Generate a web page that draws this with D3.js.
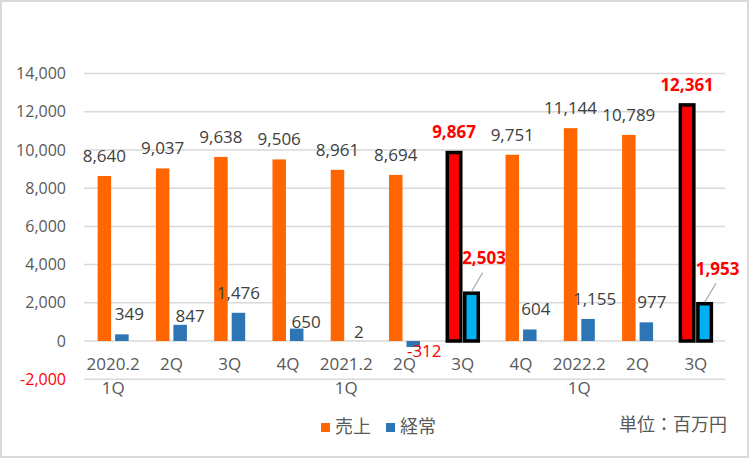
<!DOCTYPE html>
<html><head><meta charset="utf-8">
<script src="https://cdn.jsdelivr.net/npm/d3@7"></script>
<style>body{margin:0;background:#fff} svg{display:block}</style>
</head><body><svg id="c" width="750" height="459"></svg>
<script>
// ---- data ----
const categories = ["2020.2","2Q","3Q","4Q","2021.2","2Q","3Q","4Q","2022.2","2Q","3Q"];
const subCategories = ["1Q","","","","1Q","","","","1Q","",""];
const sales = [8640,9037,9638,9506,8961,8694,9867,9751,11144,10789,12361];
const ordinary = [349,847,1476,650,2,-312,2503,604,1155,977,1953];
const yTicks = [-2000,0,2000,4000,6000,8000,10000,12000,14000];
const highlighted = [6,10];
const seriesNames = ["売上","経常"];
const unitLabel = "単位：百万円";

// ---- layout (label nudges for ordinary-profit labels, px) ----
const ordLabelNudge = [[7.5,0],[10,11],[0,0],[9.5,13],[4,11],[11,30],[12.5,-15],[6,0],[6.5,0],[5.5,0],[13,-15]];

const svg = d3.select("#c");
const NUM = "'Open Sans', 'Noto Sans', sans-serif";
const JP = "'Noto Sans CJK JP', sans-serif";
const C_SALES = "#ff6600", C_ORD = "#2e75b6", C_HS = "#ff0000", C_HO = "#00b0f0";
const fmt = d3.formatLocale({decimal:".",thousands:",",grouping:[3],currency:["",""],minus:"-"}).format(",");

svg.append("rect").attr("x",1).attr("y",1).attr("width",747).attr("height",456)
  .attr("fill","#fff").attr("stroke","#d9d9d9").attr("stroke-width",2);

const x = d3.scaleBand().domain(d3.range(categories.length)).range([84,725]);
const groupW = 31;
const xSub = d3.scaleBand().domain([0,1]).range([0,groupW]).paddingInner(0.2286);
const gx = i => x(i) + (x.bandwidth()-groupW)/2;
const y = d3.scaleLinear().domain([-2000,14000]).range([379.2,73.6]);

// gridlines
svg.append("g").selectAll("line").data(yTicks).join("line")
  .attr("x1",84).attr("x2",725).attr("y1",d=>y(d)).attr("y2",d=>y(d))
  .attr("stroke","#d9d9d9").attr("stroke-width",1.5);

// y tick labels
svg.append("g").selectAll("text").data(yTicks).join("text")
  .attr("x",66).attr("y",d=>y(d)).attr("dy","0.35em").attr("text-anchor","end")
  .attr("font-family",NUM).attr("font-size",16)
  .attr("fill",d=>d<0?"#ff0000":"#595959").text(d=>fmt(d));

const isH = i => highlighted.includes(i);

// bars
const bars = svg.append("g");
bars.selectAll("rect.s").data(sales).join("rect").attr("class","s")
  .attr("x",(d,i)=>gx(i)+xSub(0)).attr("width",xSub.bandwidth())
  .attr("y",d=>y(Math.max(d,0))).attr("height",d=>Math.abs(y(d)-y(0)))
  .attr("fill",(d,i)=>isH(i)?C_HS:C_SALES)
  .attr("stroke",(d,i)=>isH(i)?"#000":"none").attr("stroke-width",3.5);
bars.selectAll("rect.o").data(ordinary).join("rect").attr("class","o")
  .attr("x",(d,i)=>gx(i)+xSub(1)).attr("width",xSub.bandwidth())
  .attr("y",d=>y(Math.max(d,0))).attr("height",d=>Math.abs(y(d)-y(0)))
  .attr("fill",(d,i)=>isH(i)?C_HO:C_ORD)
  .attr("stroke",(d,i)=>isH(i)?"#000":"none").attr("stroke-width",3.5);

// sales labels
svg.append("g").selectAll("text").data(sales).join("text")
  .attr("x",(d,i)=>gx(i)+xSub(0)+xSub.bandwidth()/2)
  .attr("y",d=>y(d)-20).attr("dy","0.35em").attr("text-anchor","middle")
  .attr("font-family",NUM).attr("font-size",17)
  .attr("font-weight",(d,i)=>isH(i)?"bold":"normal")
  .attr("fill",(d,i)=>isH(i)?"#ff0000":"#404040").text(d=>fmt(d));

// ordinary labels
const ordPos = ordinary.map((d,i)=>{
  const cx = gx(i)+xSub(1)+xSub.bandwidth()/2;
  return {cx, top:y(Math.max(d,0)), lx:cx+ordLabelNudge[i][0], ly:y(Math.max(d,0))-20+ordLabelNudge[i][1]};
});
// leader lines for highlighted
svg.append("g").selectAll("line").data(highlighted).join("line")
  .attr("x1",i=>ordPos[i].lx-1.5).attr("y1",i=>ordPos[i].ly+14.5)
  .attr("x2",i=>ordPos[i].cx).attr("y2",i=>ordPos[i].top-1.5)
  .attr("stroke","#a6a6a6").attr("stroke-width",1.2);
svg.append("g").selectAll("text").data(ordinary).join("text")
  .attr("x",(d,i)=>ordPos[i].lx).attr("y",(d,i)=>ordPos[i].ly)
  .attr("dy","0.35em").attr("text-anchor","middle")
  .attr("font-family",NUM).attr("font-size",17)
  .attr("font-weight",(d,i)=>isH(i)?"bold":"normal")
  .attr("fill",(d,i)=>(isH(i)||d<0)?"#ff0000":"#404040").text(d=>fmt(d));

// x labels
svg.append("g").selectAll("text").data(categories).join("text")
  .attr("x",(d,i)=>x(i)+x.bandwidth()/2).attr("y",364).attr("dy","0.35em")
  .attr("text-anchor","middle").attr("font-family",NUM).attr("font-size",17)
  .attr("fill","#595959").text(d=>d);
svg.append("g").selectAll("text").data(subCategories).join("text")
  .attr("x",(d,i)=>x(i)+x.bandwidth()/2).attr("y",388).attr("dy","0.35em")
  .attr("text-anchor","middle").attr("font-family",NUM).attr("font-size",17)
  .attr("fill","#595959").text(d=>d);

// legend
const leg = svg.append("g");
const legX = [321,386], legC = [C_SALES,C_ORD];
seriesNames.forEach((n,k)=>{
  leg.append("rect").attr("x",legX[k]).attr("y",423).attr("width",9).attr("height",9).attr("fill",legC[k]);
  leg.append("text").attr("x",legX[k]+14).attr("y",427).attr("dy","0.35em")
    .attr("font-family",JP).attr("font-size",18).attr("fill","#595959").text(n);
});
svg.append("text").attr("x",727).attr("y",425).attr("dy","0.35em").attr("text-anchor","end")
  .attr("font-family",JP).attr("font-size",18).attr("fill","#595959").text(unitLabel);
</script></body></html>
